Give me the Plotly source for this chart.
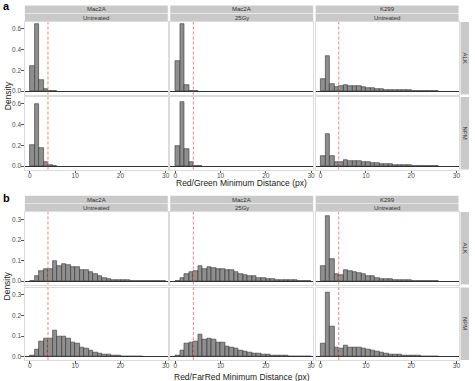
import plotly.graph_objects as go

W, H = 475, 381

# ---------------- data ----------------
cells = ["Mac2A", "Mac2A", "K299"]
treatments = ["Untreated", "25Gy", "Untreated"]
fusions = ["ALK", "NPM"]
x_titles = ["Red/Green Minimum Distance (px)", "Red/FarRed Minimum Distance (px)"]
panel_labels = ["a", "b"]
threshold = 4
bin_width = 1
x_ticks = [0, 10, 20, 30]
y_ticks_a = [0.0, 0.2, 0.4, 0.6]
y_ticks_b = [0.0, 0.1, 0.2, 0.3]

# panel a (Red/Green), densities per 1px bin starting at 0
a_mac_unt_alk = [0.240, 0.644, 0.106, 0.016, 0.004, 0.001]
a_mac_unt_npm = [0.206, 0.600, 0.174, 0.035, 0.006, 0.001]
a_mac_25_alk = [0.290, 0.647, 0.058, 0.005, 0.001]
a_mac_25_npm = [0.190, 0.615, 0.164, 0.035, 0.005, 0.001]
a_k299_alk = [0.116, 0.338, 0.068, 0.042, 0.048, 0.058, 0.051, 0.052, 0.045, 0.036,
              0.029, 0.025, 0.024, 0.018, 0.015, 0.012, 0.011, 0.009, 0.008, 0.006,
              0.004, 0.003, 0.003, 0.002, 0.002, 0.001]
a_k299_npm = [0.100, 0.310, 0.100, 0.042, 0.042, 0.058, 0.046, 0.052, 0.052, 0.036,
              0.042, 0.032, 0.029, 0.023, 0.019, 0.016, 0.013, 0.013, 0.010, 0.007,
              0.005, 0.004, 0.003, 0.002, 0.002, 0.001]

# panel b (Red/FarRed)
b_mac_unt_alk = [0.003, 0.024, 0.049, 0.057, 0.061, 0.097, 0.076, 0.083, 0.081, 0.070,
                 0.068, 0.052, 0.052, 0.045, 0.034, 0.024, 0.018, 0.013, 0.008, 0.006,
                 0.005, 0.004, 0.003, 0.003, 0.002, 0.002, 0.001, 0.001, 0.001, 0.001]
b_mac_unt_npm = [0.005, 0.037, 0.074, 0.089, 0.089, 0.125, 0.100, 0.100, 0.087, 0.069,
                 0.063, 0.045, 0.039, 0.032, 0.021, 0.016, 0.011, 0.010, 0.006, 0.005,
                 0.003, 0.002, 0.002, 0.001, 0.001]
b_mac_25_alk = [0.002, 0.018, 0.037, 0.045, 0.049, 0.076, 0.060, 0.071, 0.066, 0.061,
                0.058, 0.053, 0.052, 0.045, 0.037, 0.032, 0.026, 0.024, 0.018, 0.016,
                0.013, 0.010, 0.008, 0.006, 0.005, 0.004, 0.004, 0.003, 0.002, 0.002]
b_mac_25_npm = [0.005, 0.031, 0.066, 0.071, 0.073, 0.108, 0.084, 0.089, 0.084, 0.071,
                0.071, 0.050, 0.047, 0.039, 0.032, 0.026, 0.021, 0.018, 0.014, 0.011,
                0.010, 0.008, 0.006, 0.005, 0.004, 0.003, 0.003, 0.002, 0.002, 0.001]
b_k299_alk = [0.073, 0.317, 0.110, 0.034, 0.032, 0.053, 0.049, 0.045, 0.038, 0.034,
              0.025, 0.023, 0.018, 0.013, 0.010, 0.009, 0.007, 0.006, 0.005, 0.004,
              0.003, 0.003, 0.002, 0.002, 0.002, 0.001]
b_k299_npm = [0.063, 0.311, 0.149, 0.047, 0.040, 0.055, 0.044, 0.044, 0.044, 0.039,
              0.036, 0.029, 0.026, 0.021, 0.016, 0.013, 0.011, 0.010, 0.008, 0.006,
              0.005, 0.004, 0.003, 0.002, 0.002, 0.001]

sections = [
    [[a_mac_unt_alk, a_mac_25_alk, a_k299_alk], [a_mac_unt_npm, a_mac_25_npm, a_k299_npm]],
    [[b_mac_unt_alk, b_mac_25_alk, b_k299_alk], [b_mac_unt_npm, b_mac_25_npm, b_k299_npm]],
]

# ---------------- layout geometry (pixels) ----------------
FONT = "Liberation Sans, Arial, sans-serif"
col_left = [25.0, 171.0, 317.0]
col_w = 143.5
row_tops = [[22.0, 97.0], [212.0, 287.5]]
row_h = 72.5
y_ranges = [[-0.033, 0.667], [-0.016, 0.336]]
y_tick_sets = [y_ticks_a, y_ticks_b]
x_range = [-1.1, 30.47]
strip_rows = [[(5.6, 13.3), (13.8, 21.6)], [(195.7, 203.6), (204.1, 211.8)]]
strip_x = (462.5, 471.0)
x_title_y = [183.5, 377.0]
label_pos = [(6.5, 6.0), (7.0, 197.5)]

def px(x):
    return x / W

def py(y):
    return 1 - y / H

fig = go.Figure()
layout = {}
shapes = []
annotations = []

STRIP = "#C9C9C9"
BAR_FILL = "#8E8E8E"
BAR_LINE = "#333333"
BORDER = "#DCDCDC"

idx = 0
for s in range(2):
    for r in range(2):
        for c in range(3):
            idx += 1
            xa = "x" if idx == 1 else f"x{idx}"
            ya = "y" if idx == 1 else f"y{idx}"
            vals = sections[s][r][c]
            centers = [i * bin_width + bin_width / 2 for i in range(len(vals))]
            fig.add_trace(go.Bar(
                x=centers, y=vals, width=bin_width,
                marker=dict(color=BAR_FILL, line=dict(color=BAR_LINE, width=0.6)),
                xaxis=xa, yaxis=ya, showlegend=False, hoverinfo="skip"))
            top = row_tops[s][r]
            bottom = top + row_h
            left = col_left[c]
            right = left + col_w
            bottom_row = (r == 1)
            xkey = "xaxis" if idx == 1 else f"xaxis{idx}"
            ykey = "yaxis" if idx == 1 else f"yaxis{idx}"
            layout[xkey] = dict(
                domain=[px(left), px(right)], anchor=ya, range=x_range,
                showgrid=False, zeroline=False,
                showline=True, mirror=True, linecolor=BORDER, linewidth=1,
                tickmode="array", tickvals=x_ticks,
                ticktext=[str(t) for t in x_ticks],
                showticklabels=bottom_row,
                ticks="outside" if bottom_row else "", ticklen=2.5,
                tickcolor="#555555", tickwidth=0.6,
                ticklabelstandoff=-3,
                tickfont=dict(size=6.5, color="#4D4D4D", family=FONT),
            )
            layout[ykey] = dict(
                domain=[py(bottom), py(top)], anchor=xa, range=y_ranges[s],
                showgrid=False, zeroline=True, zerolinecolor="#333333", zerolinewidth=1,
                showline=True, mirror=True, linecolor=BORDER, linewidth=1,
                tickmode="array", tickvals=y_tick_sets[s],
                ticktext=[f"{t:.1f}" for t in y_tick_sets[s]],
                showticklabels=(c == 0),
                ticks="outside" if c == 0 else "", ticklen=2.5,
                tickcolor="#555555", tickwidth=0.6,
                ticklabelstandoff=-1,
                tickfont=dict(size=6.5, color="#4D4D4D", family=FONT),
            )
            # threshold line
            shapes.append(dict(
                type="line", xref=xa, yref=f"{ya} domain",
                x0=threshold, x1=threshold, y0=0, y1=1,
                line=dict(color="#E8787A", width=0.9, dash="3px,2px"), layer="above"))
            # right strip
            if c == 2:
                shapes.append(dict(type="rect", xref="paper", yref="paper",
                                   x0=px(strip_x[0]), x1=px(strip_x[1]),
                                   y0=py(bottom), y1=py(top),
                                   fillcolor=STRIP, line=dict(width=0), layer="below"))
                annotations.append(dict(
                    x=px((strip_x[0] + strip_x[1]) / 2), y=py((top + bottom) / 2),
                    xref="paper", yref="paper", text=fusions[r], showarrow=False,
                    textangle=90, font=dict(size=6, color="#333333", family=FONT),
                    xanchor="center", yanchor="middle"))
    # top strips
    for c in range(3):
        left = col_left[c]
        right = left + col_w
        for k, labels in enumerate([cells, treatments]):
            y0, y1 = strip_rows[s][k]
            shapes.append(dict(type="rect", xref="paper", yref="paper",
                               x0=px(left), x1=px(right), y0=py(y1), y1=py(y0),
                               fillcolor=STRIP, line=dict(width=0), layer="below"))
            annotations.append(dict(
                x=px((left + right) / 2), y=py((y0 + y1) / 2), xref="paper", yref="paper",
                text=labels[c], showarrow=False,
                font=dict(size=6, color="#333333", family=FONT),
                xanchor="center", yanchor="middle"))
    # axis titles
    top = row_tops[s][0]
    bottom = row_tops[s][1] + row_h
    annotations.append(dict(
        x=px(7.5), y=py((top + bottom) / 2), xref="paper", yref="paper",
        text="Density", showarrow=False, textangle=-90,
        font=dict(size=8.5, color="#222222", family=FONT),
        xanchor="center", yanchor="middle"))
    annotations.append(dict(
        x=px((col_left[0] + col_left[2] + col_w) / 2), y=py(x_title_y[s]),
        xref="paper", yref="paper", text=x_titles[s], showarrow=False,
        font=dict(size=8.5, color="#222222", family=FONT),
        xanchor="center", yanchor="middle"))
    annotations.append(dict(
        x=px(label_pos[s][0]), y=py(label_pos[s][1]), xref="paper", yref="paper",
        text=f"<b>{panel_labels[s]}</b>", showarrow=False,
        font=dict(size=11, color="#000000", family=FONT),
        xanchor="center", yanchor="middle"))

fig.update_layout(
    width=W, height=H, margin=dict(l=0, r=0, t=0, b=0),
    paper_bgcolor="white", plot_bgcolor="white",
    bargap=0, barmode="overlay",
    shapes=shapes, annotations=annotations,
    font=dict(family=FONT),
    **layout,
)

fig.write_html("out.html")
